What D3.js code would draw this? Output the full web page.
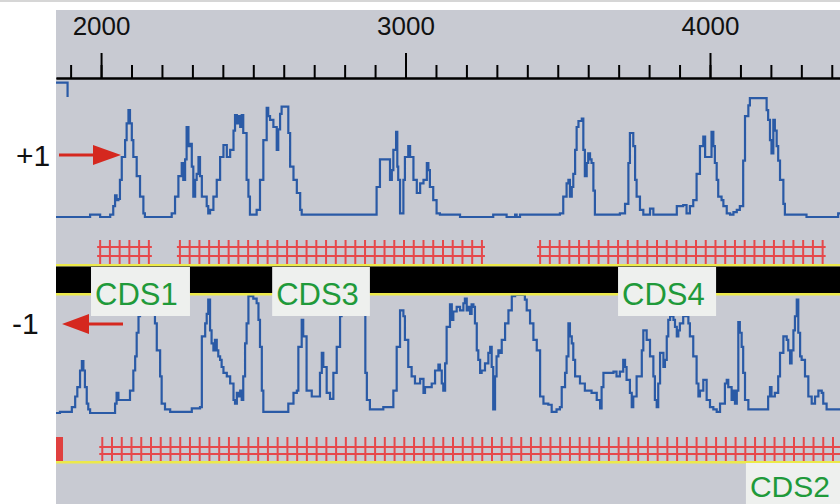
<!DOCTYPE html>
<html>
<head>
<meta charset="utf-8">
<script src="https://cdn.jsdelivr.net/npm/d3@7"></script>
<style>
  html, body { margin: 0; padding: 0; background: #ffffff; }
  svg { display: block; }
</style>
</head>
<body>
<svg id="chart" width="840" height="504"></svg>
<script>
// ---- data -------------------------------------------------------------
// sequence window shown (bp)
const viewRange = [1852, 4427];
const majorTicks = [2000, 3000, 4000];
const minorTicks = d3.range(1900, 4427, 100);

// coding potential, frame +1: [position (bp), probability]
const framePlus1 = [
  [1852,0],[1964,0.02],[1997,0],[2030,0.02],[2040,0.09],[2046,0.18],[2051,0.14],[2057,0.15],[2062,0.31],[2068,0.5],
  [2079,0.64],[2084,0.78],[2090,0.89],[2095,0.78],[2101,0.64],[2106,0.5],[2117,0.34],[2128,0.17],[2139,0.03],[2144,0],
  [2232,0.03],[2243,0.17],[2254,0.34],[2265,0.45],[2270,0.31],[2276,0.48],[2281,0.75],[2287,0.59],[2292,0.61],[2298,0.42],
  [2303,0.17],[2309,0.31],[2314,0.36],[2320,0.5],[2325,0.34],[2331,0.17],[2347,0.09],[2352,0.03],[2358,0.06],[2369,0.17],
  [2380,0.31],[2391,0.5],[2402,0.6],[2413,0.5],[2424,0.56],[2435,0.72],[2440,0.85],[2446,0.78],[2451,0.84],[2457,0.75],
  [2462,0.85],[2467,0.7],[2478,0.31],[2484,0.17],[2489,0.02],[2511,0.06],[2522,0.31],[2533,0.64],[2544,0.91],[2549,0.84],
  [2555,0.81],[2566,0.75],[2577,0.56],[2582,0.73],[2588,0.86],[2593,0.92],[2610,0.92],[2615,0.7],[2621,0.42],[2632,0.31],
  [2643,0.2],[2654,0.06],[2659,0.02],
  [2905,0.25],[2916,0.48],[2944,0.48],[2949,0.31],[2955,0.39],[2960,0.56],[2969,0.71],[2973,0.42],[2976,0.31],[2982,0.03],
  [2993,0.31],[2998,0.5],[3009,0.59],[3015,0.5],[3026,0.31],[3037,0.2],[3048,0.28],[3059,0.31],[3070,0.45],[3075,0.39],
  [3080,0.25],[3091,0.14],[3102,0.03],[3113,0.02],[3179,0],[3288,0.02],[3332,0],[3360,0.02],[3365,0],[3376,0.02],
  [3507,0.03],[3518,0.17],[3529,0.28],[3535,0.31],[3540,0.17],[3546,0.25],[3551,0.36],[3557,0.56],[3562,0.75],[3568,0.8],
  [3579,0.82],[3584,0.56],[3589,0.34],[3595,0.45],[3600,0.53],[3606,0.48],[3611,0.45],[3617,0.22],[3622,0.02],
  [3704,0.03],[3721,0.11],[3732,0.45],[3737,0.7],[3748,0.59],[3754,0.31],[3759,0.17],[3770,0.06],[3781,0.02],[3803,0.07],
  [3814,0.02],[3891,0.09],[3912,0.1],[3923,0.03],[3934,0.09],[3945,0.14],[3956,0.36],[3967,0.59],[3978,0.67],[3984,0.5],
  [4000,0.5],[4005,0.71],[4011,0.59],[4016,0.45],[4022,0.31],[4027,0.17],[4038,0.14],[4044,0.09],[4055,0.03],[4066,0.02],
  [4077,0.04],[4088,0.06],[4098,0.09],[4109,0.47],[4115,0.84],[4126,0.93],[4131,0.99],[4181,0.99],[4186,0.89],[4191,0.81],
  [4197,0.64],[4202,0.53],[4208,0.81],[4213,0.72],[4219,0.59],[4224,0.47],[4230,0.31],[4241,0.11],[4246,0.02],[4317,0],
  [4421,0.03],[4430,0.03]
];

// tail of the preceding window, frame +1
const framePlus1Edge = [[1852,1.12],[1890,1.0]];

// coding potential, frame -1: [position (bp), probability]
const frameMinus1 = [
  [1852,0],[1865,0.01],[1904,0.05],[1915,0.14],[1922,0.22],[1931,0.36],[1937,0.44],[1942,0.36],[1947,0.22],[1953,0.08],
  [1958,0.03],[1964,0],[2046,0.08],[2051,0.17],[2057,0.11],[2090,0.11],[2095,0.19],[2106,0.36],[2112,0.48],[2117,0.68],
  [2123,0.82],[2128,1.0],[2172,0.95],[2177,0.76],[2183,0.53],[2194,0.31],[2199,0.08],[2210,0.03],[2227,0.01],[2298,0.04],
  [2325,0.05],[2331,0.65],[2342,0.76],[2347,0.84],[2352,0.96],[2358,0.7],[2363,0.59],[2369,0.53],[2374,0.62],[2380,0.53],
  [2385,0.48],[2391,0.45],[2396,0.39],[2402,0.34],[2413,0.31],[2424,0.25],[2435,0.11],[2440,0.08],[2446,0.17],[2451,0.14],
  [2457,0.19],[2462,0.11],[2467,0.31],[2473,0.59],[2478,0.76],[2484,0.99],[2500,0.97],[2511,0.93],[2517,0.79],[2522,0.56],
  [2528,0.19],[2533,0.01],[2615,0.08],[2632,0.17],[2643,0.19],[2648,0.56],[2659,0.79],[2664,0.65],[2675,0.19],[2692,0.14],
  [2714,0.14],[2719,0.34],[2725,0.51],[2730,0.39],[2741,0.17],[2752,0.12],[2763,0.34],[2774,0.56],[2785,0.82],[2790,0.95],
  [2812,0.9],[2823,0.95],[2862,0.87],[2868,0.34],[2873,0.11],[2883,0.03],[2927,0.05],[2960,0.19],[2971,0.56],[2982,0.87],
  [2993,0.82],[2998,0.62],[3009,0.39],[3020,0.31],[3031,0.25],[3048,0.29],[3059,0.17],[3064,0.22],[3086,0.25],[3097,0.36],
  [3108,0.41],[3113,0.36],[3119,0.25],[3124,0.19],[3130,0.42],[3135,0.73],[3146,0.92],[3152,0.79],[3157,0.86],[3168,0.9],
  [3179,0.87],[3190,0.93],[3195,0.97],[3201,0.87],[3206,0.9],[3212,0.84],[3217,0.92],[3223,0.9],[3228,0.76],[3234,0.53],
  [3239,0.45],[3245,0.34],[3250,0.36],[3261,0.42],[3272,0.51],[3278,0.56],[3283,0.39],[3288,0.03],[3294,0.31],[3299,0.48],
  [3305,0.53],[3310,0.51],[3316,0.62],[3327,0.76],[3338,0.87],[3349,0.99],[3360,1.0],[3381,1.0],[3392,0.96],[3398,0.87],
  [3409,0.76],[3420,0.62],[3431,0.53],[3442,0.14],[3453,0.08],[3469,0.07],[3480,0.01],[3496,0.03],[3507,0.05],[3513,0.22],
  [3524,0.34],[3529,0.48],[3535,0.76],[3540,0.65],[3546,0.59],[3551,0.45],[3557,0.31],[3573,0.25],[3589,0.19],[3611,0.17],
  [3628,0.11],[3639,0.04],[3644,0.22],[3650,0.34],[3683,0.35],[3693,0.31],[3704,0.35],[3715,0.45],[3721,0.39],[3726,0.28],
  [3737,0.17],[3743,0.05],[3748,0.14],[3759,0.31],[3776,0.53],[3781,0.7],[3792,0.62],[3803,0.48],[3814,0.31],[3819,0.11],
  [3825,0.05],[3830,0.25],[3836,0.51],[3847,0.39],[3852,0.45],[3858,0.65],[3863,0.79],[3869,0.87],[3874,0.82],[3880,0.79],
  [3885,0.73],[3891,0.65],[3896,0.7],[3901,0.76],[3912,0.82],[3923,0.84],[3929,0.76],[3934,0.65],[3945,0.48],[3956,0.25],
  [3962,0.14],[3967,0.19],[3978,0.28],[3989,0.11],[4000,0.05],[4011,0.03],[4022,0.01],[4033,0.08],[4049,0.25],[4055,0.28],
  [4060,0.22],[4071,0.11],[4077,0.19],[4082,0.08],[4088,0.19],[4093,0.77],[4098,0.68],[4104,0.56],[4109,0.34],[4115,0.11],
  [4126,0.03],[4186,0.03],[4191,0.14],[4197,0.22],[4202,0.14],[4213,0.17],[4224,0.31],[4230,0.51],[4241,0.65],[4252,0.62],
  [4257,0.53],[4263,0.42],[4268,0.53],[4274,0.7],[4279,0.82],[4285,0.96],[4290,0.68],[4296,0.48],[4301,0.45],[4312,0.31],
  [4323,0.14],[4334,0.08],[4345,0.14],[4356,0.19],[4367,0.17],[4372,0.08],[4383,0.03],[4430,0.03]
];

// open reading frames (bp) drawn as hatched bands
const orfPlus1 = [[1997,2177],[2259,3254],[3442,4371]];
const orfMinus1 = [[2004,4440]];
const orfMinus1Stub = [[1852,1875]];

// annotated genes
const cdsPlus = [
  { name: "CDS1", start: 1967, end: 2292 },
  { name: "CDS3", start: 2562, end: 2883 },
  { name: "CDS4", start: 3698, end: 4020 }
];
const cdsMinus = [
  { name: "CDS2", start: 4118, end: 4440 }
];

const frameLabels = ["+1", "-1"];

// ---- layout ---------------------------------------------------------
const W = 840, H = 504;
const panel = { x0: 56, x1: 840, y0: 10, y1: 504 };
const axisY = 78;
const plusBand = { y0: 217, y1: 97 };
const minusBand = { y0: 413, y1: 295 };
const hatchStep = 32;

const colors = {
  panel: "#c8cad2",
  trace: "#2a5aa6",
  hatch: "#e6484b",
  stub: "#e0403f",
  yellow: "#ece94a",
  bar: "#000000",
  box: "#eef0ee",
  cds: "#1f9a3a",
  arrow: "#d5281f"
};

const svg = d3.select("#chart");

const x = d3.scaleLinear().domain(viewRange).range([panel.x0, panel.x1]);
const yPlus = d3.scaleLinear().domain([0, 1]).range([plusBand.y0, plusBand.y1]);
const yMinus = d3.scaleLinear().domain([0, 1]).range([minusBand.y0, minusBand.y1]);

// thin rule along the very top
svg.append("rect").attr("x", 0).attr("y", 0).attr("width", W).attr("height", 2).attr("fill", "#d6d6d6");

// panel background
svg.append("rect")
  .attr("x", panel.x0).attr("y", panel.y0)
  .attr("width", panel.x1 - panel.x0).attr("height", panel.y1 - panel.y0)
  .attr("fill", colors.panel);

svg.append("defs").append("clipPath").attr("id", "panelClip")
  .append("rect")
  .attr("x", panel.x0).attr("y", panel.y0)
  .attr("width", panel.x1 - panel.x0).attr("height", panel.y1 - panel.y0);

const plot = svg.append("g").attr("clip-path", "url(#panelClip)");

// ---- ruler ----------------------------------------------------------
const minorAxis = d3.axisTop(x).tickValues(minorTicks).tickSize(13).tickSizeOuter(0).tickFormat("");
const majorAxis = d3.axisTop(x).tickValues(majorTicks).tickSize(25).tickSizeOuter(0)
  .tickPadding(18).tickFormat(d3.format("d"));

const gMinor = plot.append("g").attr("transform", `translate(0,${axisY})`).call(minorAxis);
const gMajor = plot.append("g").attr("transform", `translate(0,${axisY})`).call(majorAxis);
[gMinor, gMajor].forEach(g => {
  g.select(".domain").attr("stroke", "#000").attr("stroke-width", 2);
  g.selectAll(".tick line").attr("stroke", "#000").attr("stroke-width", 2);
});
gMajor.selectAll(".tick text")
  .attr("fill", "#111")
  .attr("font-family", "'Liberation Sans', Arial, sans-serif")
  .attr("font-size", 26);

// ---- coding-potential traces ------------------------------------------
const stepLine = y => d3.line().x(d => x(d[0])).y(d => y(d[1])).curve(d3.curveStepAfter);

plot.append("path").datum(framePlus1)
  .attr("d", stepLine(yPlus)).attr("fill", "none")
  .attr("stroke", colors.trace).attr("stroke-width", 2.2).attr("stroke-linejoin", "miter");
plot.append("path").datum(framePlus1Edge)
  .attr("d", stepLine(yPlus)).attr("fill", "none")
  .attr("stroke", colors.trace).attr("stroke-width", 2.2);
plot.append("path").datum(frameMinus1)
  .attr("d", stepLine(yMinus)).attr("fill", "none")
  .attr("stroke", colors.trace).attr("stroke-width", 2.2).attr("stroke-linejoin", "miter");

// ---- ORF hatching -----------------------------------------------------
function hatch(segments, top, bottom, rows) {
  const g = plot.append("g").attr("stroke", colors.hatch).attr("stroke-width", 2);
  segments.forEach(([s, e]) => {
    const posts = d3.range(s, e + 1, hatchStep);
    g.selectAll(null).data(posts).enter().append("line")
      .attr("x1", d => x(d)).attr("x2", d => x(d))
      .attr("y1", top).attr("y2", bottom);
    g.selectAll(null).data(rows).enter().append("line")
      .attr("x1", x(s) - 3).attr("x2", x(posts[posts.length - 1]) + 3)
      .attr("y1", d => d).attr("y2", d => d);
  });
}
hatch(orfPlus1, 240, 264, [247, 256]);
hatch(orfMinus1, 437, 462, [447, 454]);

plot.selectAll(null).data(orfMinus1Stub).enter().append("rect")
  .attr("x", d => x(d[0])).attr("width", d => x(d[1]) - x(d[0]))
  .attr("y", 437).attr("height", 25).attr("fill", colors.stub);

// ---- gene track -------------------------------------------------------
plot.append("rect").attr("x", panel.x0).attr("width", panel.x1 - panel.x0)
  .attr("y", 264).attr("height", 2.5).attr("fill", colors.yellow);
plot.append("rect").attr("x", panel.x0).attr("width", panel.x1 - panel.x0)
  .attr("y", 266.5).attr("height", 26.5).attr("fill", colors.bar);
plot.append("rect").attr("x", panel.x0).attr("width", panel.x1 - panel.x0)
  .attr("y", 293).attr("height", 2.5).attr("fill", colors.yellow);
plot.append("rect").attr("x", panel.x0).attr("width", panel.x1 - panel.x0)
  .attr("y", 461).attr("height", 2.5).attr("fill", colors.yellow);

function cdsLabels(list, boxTop, boxBottom, baseline, size) {
  const g = plot.selectAll(null).data(list).enter().append("g");
  g.append("rect")
    .attr("x", d => x(d.start)).attr("width", d => x(d.end) - x(d.start))
    .attr("y", boxTop).attr("height", boxBottom - boxTop)
    .attr("fill", colors.box);
  g.append("text")
    .attr("x", d => x(d.start) + 4).attr("y", baseline)
    .attr("fill", colors.cds)
    .attr("font-family", "'Liberation Sans', Arial, sans-serif")
    .attr("font-size", size)
    .text(d => d.name);
}
cdsLabels(cdsPlus, 267, 316, 305, 31);
cdsLabels(cdsMinus, 463, 504, 497, 30);

// ---- frame labels and direction arrows ---------------------------------
svg.selectAll(null).data(frameLabels).enter().append("text")
  .attr("x", (d, i) => i === 0 ? 16 : 12)
  .attr("y", (d, i) => i === 0 ? 166 : 334)
  .attr("font-family", "'Liberation Sans', Arial, sans-serif")
  .attr("font-size", 30)
  .attr("fill", "#111")
  .text(d => d);

const arrows = svg.append("g").attr("fill", colors.arrow).attr("stroke", colors.arrow);
arrows.append("line").attr("x1", 59).attr("x2", 96).attr("y1", 155).attr("y2", 155).attr("stroke-width", 3);
arrows.append("path").attr("stroke", "none").attr("d", "M93,145 L121,155 L93,165 Z");
arrows.append("line").attr("x1", 86).attr("x2", 123).attr("y1", 324).attr("y2", 324).attr("stroke-width", 3);
arrows.append("path").attr("stroke", "none").attr("d", "M89,314 L62,324 L89,334 Z");
</script>
</body>
</html>
